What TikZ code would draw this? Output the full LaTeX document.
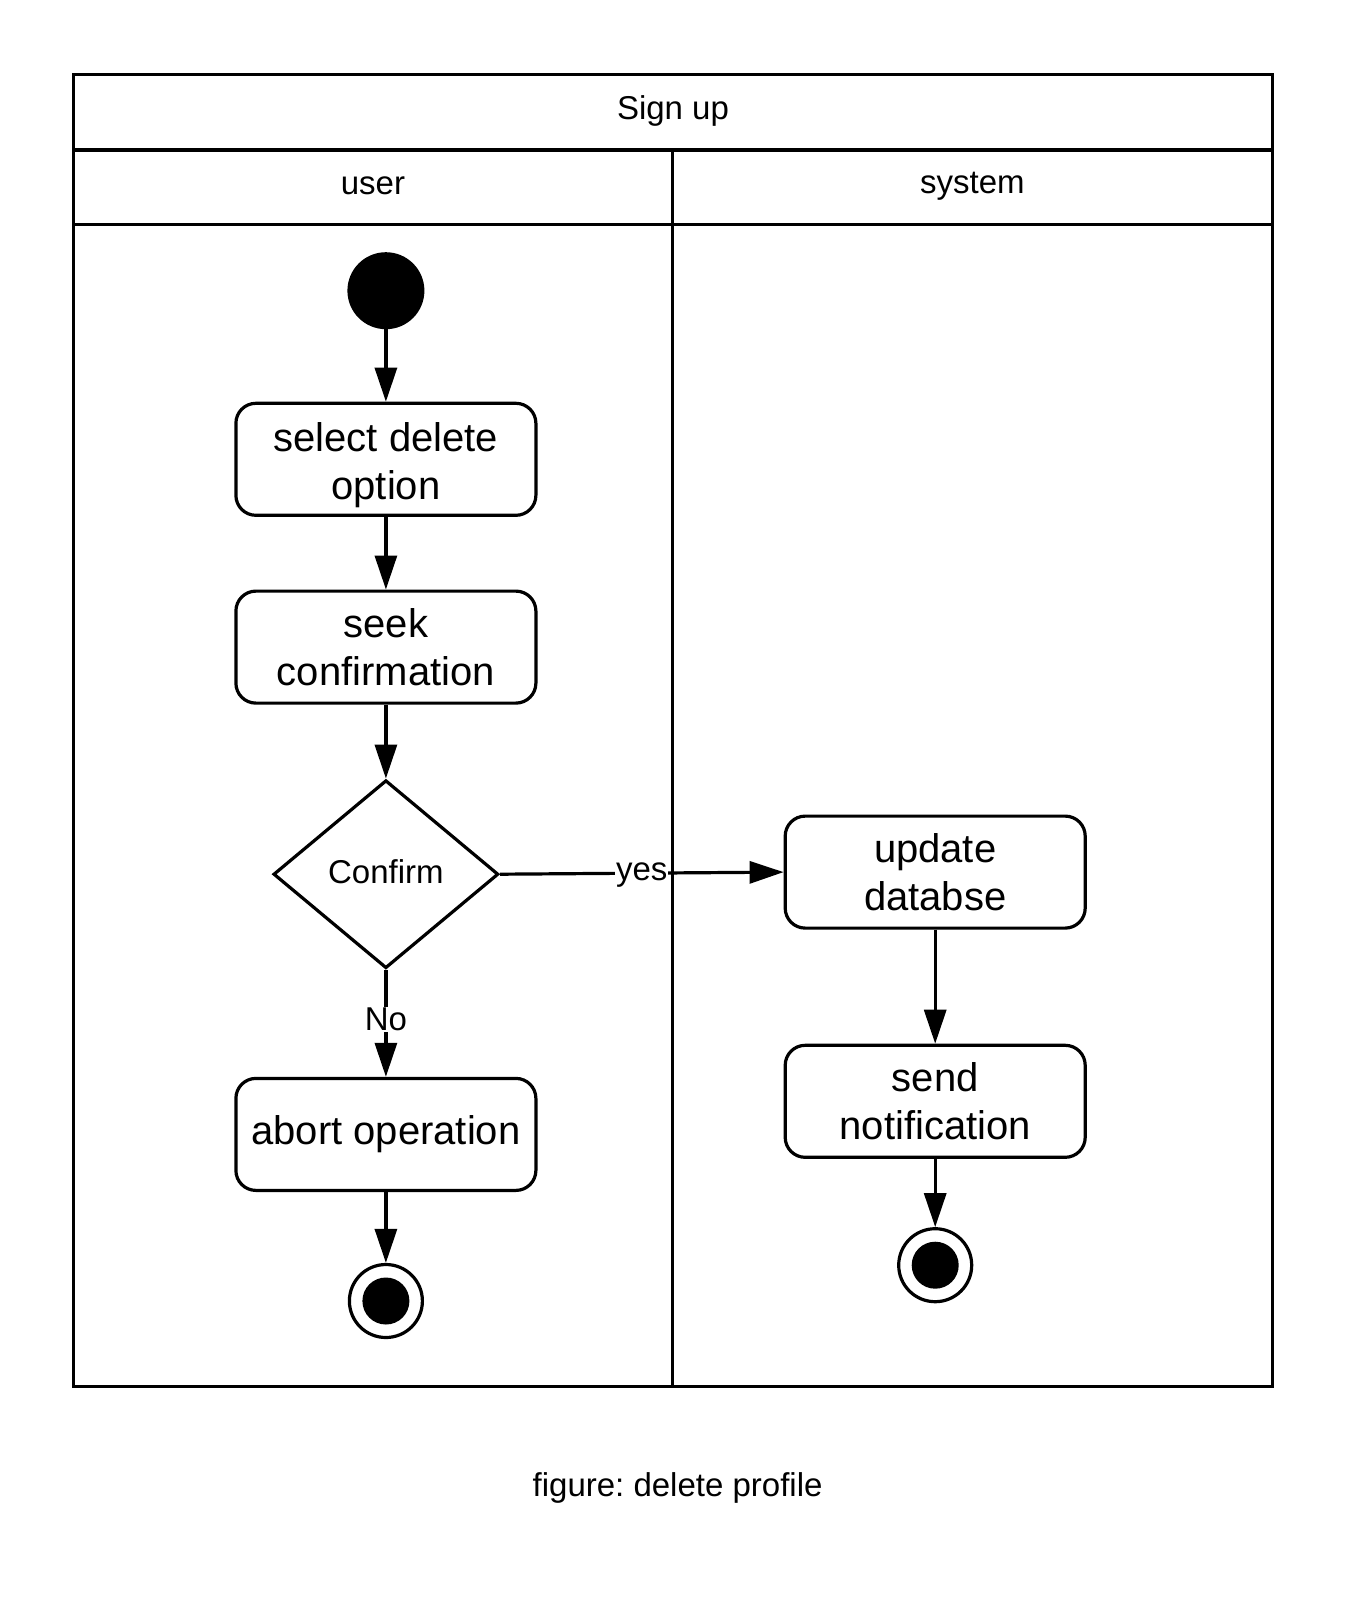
\documentclass[tikz,border=0pt]{standalone}
\usepackage{fontspec}
\setmainfont{Liberation Sans}
\usetikzlibrary{shapes.geometric,arrows.meta}
\frenchspacing
\begin{document}
\begin{tikzpicture}[x=1pt,y=-1pt,
  lw/.style={line width=3.2pt},
  actbox/.style={lw,draw,rounded corners=20pt,minimum width=300pt,minimum height=112pt,inner sep=0pt,align=center,font=\fontsize{40}{48}\selectfont},
  decis/.style={lw,draw,diamond,minimum width=225pt,minimum height=188pt,inner sep=0pt,aspect=1.2,font=\fontsize{33}{40}\selectfont},
  small/.style={font=\fontsize{33}{40}\selectfont,inner sep=1pt},
  flow/.style={lw,-{Triangle[length=34pt,width=22pt]}},
  startdot/.style={circle,fill=black,minimum size=77pt,inner sep=0pt},
  endring/.style={circle,draw,line width=3.2pt,minimum size=73pt,inner sep=0pt},
  enddot/.style={circle,fill=black,minimum size=47pt,inner sep=0pt}]
\useasboundingbox (0,0) rectangle (1350,1622);
\fill[white] (0,0) rectangle (1350,1622);
% swimlane frame
\draw[lw] (73.4,74.5) rectangle (1272.4,1386.2);
\draw[lw] (73.4,150) -- (1272.4,150);
\draw[lw] (73.4,224.5) -- (1272.4,224.5);
\draw[lw] (672.4,150) -- (672.4,1386.2);
\node[small] (title) at (673,110.6) {Sign up};
\node[small] (laneu) at (372.9,186) {user};
\node[small] (lanes) at (972.4,186.5) {system};
% user lane
\node[startdot] (start) at (385.9,290.7) {};
\node[actbox] (sel) at (385.9,459.3) {\rule{0pt}{41pt}select delete\\option};
\node[actbox] (seek) at (385.9,647.1) {seek\\confirmation};
\node[decis] (conf) at (385.9,874.2) {\raisebox{5pt}{Confirm}};
\node[actbox] (abort) at (385.9,1134.4) {abort operation};
\node[endring] (endu) at (385.9,1301) {};
\node[enddot] (endui) at (385.9,1301) {};
% system lane
\node[actbox] (upd) at (935.2,872.1) {update\\databse};
\node[actbox] (send) at (935.2,1101.3) {send\\notification};
\node[endring] (ends) at (935.2,1265.2) {};
\node[enddot] (endsi) at (935.2,1265.2) {};
% connectors
\draw[flow] (start) -- (sel);
\draw[flow] (sel) -- (seek);
\draw[flow] (seek) -- (conf);
\draw[flow] (conf.east) -- node[small,fill=white,inner sep=1pt,pos=0.5,yshift=-2pt] (yes) {yes} (upd.west);
\draw[flow] (conf.south) -- node[small,fill=white,inner sep=1pt,pos=0.46] (no) {No} (abort.north);
\draw[flow] (abort) -- (endu);
\draw[flow] (upd) -- (send);
\draw[flow] (send) -- (ends);
% caption
\node[small] (cap) at (677.6,1487.5) {figure: delete profile};
\end{tikzpicture}
\end{document}
